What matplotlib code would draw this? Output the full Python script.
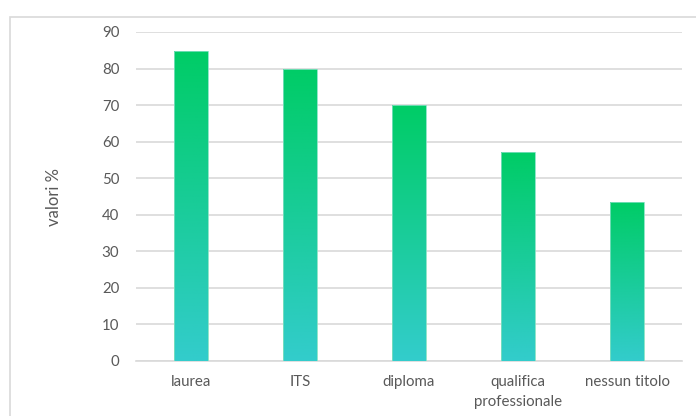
import matplotlib
matplotlib.use("Agg")
import matplotlib.pyplot as plt
import numpy as np
from matplotlib.colors import LinearSegmentedColormap
from matplotlib.patches import Rectangle

# data
categorie = ["laurea", "ITS", "diploma", "qualifica\nprofessionale", "nessun titolo"]
valori = [84.7, 80, 70, 57.1, 43.5]
yticks = [0, 10, 20, 30, 40, 50, 60, 70, 80, 90]

plt.rcParams['font.family'] = ['Lato', 'DejaVu Sans']
text_col = '#595959'
grid_col = '#D9D9D9'

W, H = 696, 416
fig = plt.figure(figsize=(W / 100, H / 100), dpi=100)
ax = fig.add_axes([136 / W, (H - 361) / H, (682 - 136) / W, (361 - 32) / H])

# outer chart border (light gray frame)
fig.patches.append(Rectangle((10 / W, -0.01), 1.0, (H - 17) / H + 0.01,
                             transform=fig.transFigure, fill=False,
                             edgecolor=grid_col, linewidth=1.2))

x = np.arange(len(categorie))
bars = ax.bar(x, valori, width=0.31, color='none', edgecolor='none', zorder=3)

# vertical gradient for each bar: turquoise at the bottom, green at the top
cmap = LinearSegmentedColormap.from_list('g', ['#33CCCC', '#00CC66'])
grad = np.linspace(0, 1, 256).reshape(-1, 1)
for b in bars:
    x0, w, h = b.get_x(), b.get_width(), b.get_height()
    im = ax.imshow(grad, cmap=cmap, aspect='auto', origin='lower',
                   extent=[x0, x0 + w, 0, h], zorder=3)
    im.set_clip_path(b)
    ax.add_patch(Rectangle((x0, 0), w, h, fill=False,
                           edgecolor='#7FE0C0', linewidth=0.6, zorder=4))

ax.set_xlim(-0.5, len(categorie) - 0.5)
ax.set_ylim(0, 90)
ax.set_yticks(yticks)
ax.set_xticks(x)
ax.set_xticklabels(categorie, linespacing=1.55)
ax.grid(axis='y', color=grid_col, linewidth=1.2, zorder=0)
ax.set_axisbelow(True)
for s in ['top', 'right', 'left']:
    ax.spines[s].set_visible(False)
ax.spines['bottom'].set_color(grid_col)
ax.spines['bottom'].set_linewidth(1.2)
ax.tick_params(axis='both', length=0, colors=text_col, labelsize=10.8)
ax.tick_params(axis='y', pad=12)
ax.tick_params(axis='x', pad=10)

ax.set_ylabel('valori %', color=text_col, fontsize=12)
ax.yaxis.set_label_coords((62 - 136) / (682 - 136), 0.5)

fig.savefig('out.png', dpi=100)
